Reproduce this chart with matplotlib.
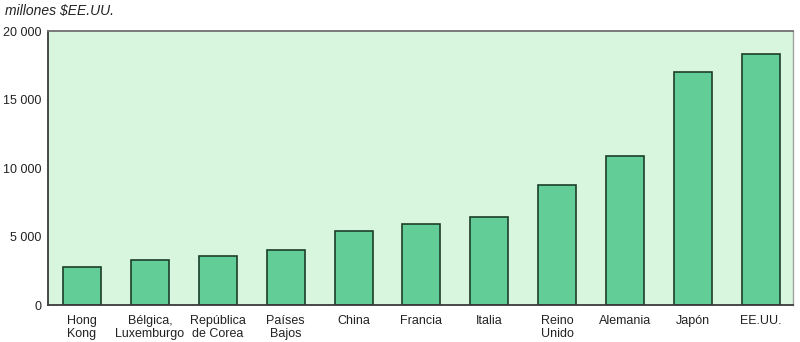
import matplotlib
matplotlib.use("Agg")
import matplotlib.pyplot as plt
from matplotlib.ticker import FuncFormatter

paises = ["Hong\nKong", "Bélgica,\nLuxemburgo", "República\nde Corea", "Países\nBajos",
          "China", "Francia", "Italia", "Reino\nUnido", "Alemania", "Japón", "EE.UU."]
valores = [2800, 3300, 3600, 4000, 5400, 5900, 6400, 8800, 10900, 17000, 18300]
y_ticks = [0, 5000, 10000, 15000, 20000]

plt.rcParams["font.family"] = ["Liberation Sans", "DejaVu Sans"]

fig = plt.figure(figsize=(8, 3.42), dpi=100)
ax = fig.add_axes([0.06, 0.108, 0.931, 0.801])
ax.set_facecolor("#d7f6dd")

x = list(range(len(paises)))
ax.bar(x, valores, width=0.56, color="#62cd96", edgecolor="#1c3f2a", linewidth=1.2)

ax.set_xlim(-0.5, len(paises) - 0.53)
ax.set_ylim(0, 20000)
ax.set_yticks(y_ticks)
ax.yaxis.set_major_formatter(FuncFormatter(lambda v, p: f"{int(v):,}".replace(",", " ")))
ax.set_xticks(x)
ax.set_xticklabels(paises, fontsize=9, linespacing=1.12, color="#222222")
ax.tick_params(axis="y", length=0, pad=5, labelsize=9, labelcolor="#222222")
ax.tick_params(axis="x", length=0, pad=7)

for side in ["left", "bottom"]:
    ax.spines[side].set_color("#3a3a3a")
    ax.spines[side].set_linewidth(1.3)
ax.spines["top"].set_color("#707070")
ax.spines["top"].set_linewidth(1.3)
ax.spines["right"].set_color("#a0a0a0")
ax.spines["right"].set_linewidth(1.0)

fig.text(0.006, 0.968, "millones $EE.UU.", fontsize=10, style="italic", va="center", ha="left",
         color="#222222")

fig.savefig("out.png", dpi=100)
